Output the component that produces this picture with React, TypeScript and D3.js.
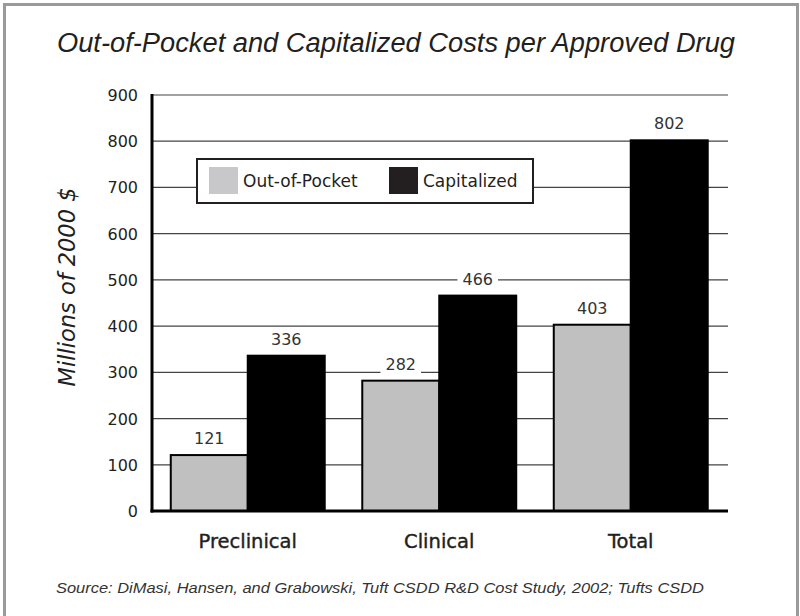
import React from "react";
import * as d3 from "d3";

const categories = ["Preclinical", "Clinical", "Total"];
const seriesNames = ["Out-of-Pocket", "Capitalized"];
const outOfPocket = [121, 282, 403];
const capitalized = [336, 466, 802];
const yTicks = [0, 100, 200, 300, 400, 500, 600, 700, 800, 900];
const title = "Out-of-Pocket and Capitalized Costs per Approved Drug";
const yTitle = "Millions of 2000 $";
const source = "Source: DiMasi, Hansen, and Grabowski, Tuft CSDD R&D Cost Study, 2002; Tufts CSDD";

const W = 800;
const H = 616;
const FONT = "'Liberation Sans', Arial, sans-serif";
const WIDE = "'DejaVu Sans', sans-serif";

export default function App() {
  const left = 152;
  const right = 726.5;
  const top = 95;
  const bottom = 511;

  const x0 = d3.scaleBand<string>().domain(categories).range([left, right]).paddingInner(0.196).paddingOuter(0.098);
  const x1 = d3.scaleBand<string>().domain(seriesNames).range([0, x0.bandwidth()]);
  const y = d3.scaleLinear().domain([0, 900]).range([bottom, top]);

  const fills = ["#c0c0c0", "#000000"];
  const series = [outOfPocket, capitalized];

  const bars: any[] = [];
  const labels: any[] = [];
  categories.forEach((c, i) => {
    seriesNames.forEach((s, j) => {
      const v = series[j][i];
      const bx = (x0(c) as number) + (x1(s) as number);
      const bw = x1.bandwidth();
      bars.push(
        <rect
          key={`b-${c}-${s}`}
          x={bx}
          y={y(v)}
          width={bw}
          height={y(0) - y(v)}
          fill={fills[j]}
          stroke="#000"
          strokeWidth={2}
        />
      );
      const cx = bx + bw / 2;
      const ty = y(v) - 11;
      const tw = String(v).length * 0.636 * 16;
      labels.push(
        <g key={`l-${c}-${s}`}>
          <rect x={cx - tw / 2 - 5} y={ty - 14} width={tw + 10} height={18} fill="#fff" />
          <text x={cx} y={ty} textAnchor="middle" fontSize={16} fill="#333" fontFamily={WIDE}>
            {v}
          </text>
        </g>
      );
    });
  });

  return (
    <svg width={W} height={H} style={{ position: "absolute", left: 0, top: 0, background: "#fff" }}>
      <rect x={0} y={0} width={W} height={H} fill="#fff" />
      <rect x={4.5} y={4.5} width={793} height={H + 10} fill="none" stroke="#9a9a9a" strokeWidth={3} />

      <text
        x={396}
        y={52}
        textAnchor="middle"
        fontSize={27}
        fontStyle="italic"
        fill="#231f20"
        fontFamily={FONT}
        textLength={678}
        lengthAdjust="spacingAndGlyphs"
      >
        {title}
      </text>

      {/* gridlines */}
      {yTicks.filter((t) => t > 0).map((t) => (
        <line key={`g-${t}`} x1={left} x2={728} y1={y(t)} y2={y(t)} stroke="#444" strokeWidth={1.2} />
      ))}

      {/* y tick labels */}
      {yTicks.map((t) => (
        <text
          key={`t-${t}`}
          x={138}
          y={y(t) + 6}
          textAnchor="end"
          fontSize={16}
          fill="#231f20"
          fontFamily={WIDE}
        >
          {t}
        </text>
      ))}

      {/* legend */}
      <g>
        <rect x={197} y={159} width={336} height={44} fill="#fff" stroke="#231f20" strokeWidth={2} />
        <rect x={209} y={167} width={29} height={27} fill="#c8c8ca" />
        <text x={243} y={187} fontSize={17} fill="#231f20" fontFamily={WIDE}>
          {seriesNames[0]}
        </text>
        <rect x={389} y={167} width={29} height={27} fill="#231f20" />
        <text x={423} y={187} fontSize={17} fill="#231f20" fontFamily={WIDE}>
          {seriesNames[1]}
        </text>
      </g>

      {bars}
      {labels}

      {/* axes */}
      <line x1={left} x2={left} y1={top - 1} y2={bottom + 1.5} stroke="#000" strokeWidth={3} />
      <line x1={left - 1.5} x2={728} y1={bottom} y2={bottom} stroke="#000" strokeWidth={3} />

      {/* category labels */}
      {categories.map((c) => (
        <text
          key={`c-${c}`}
          x={(x0(c) as number) + x0.bandwidth() / 2}
          y={548}
          textAnchor="middle"
          fontSize={19.5}
          fill="#231f20"
          stroke="#231f20"
          strokeWidth={0.4}
          fontFamily={WIDE}
        >
          {c}
        </text>
      ))}

      {/* y axis title */}
      <text
        transform={`translate(75, 287) rotate(-90)`}
        textAnchor="middle"
        fontSize={22.5}
        fontStyle="italic"
        fill="#231f20"
        fontFamily={WIDE}
      >
        {yTitle}
      </text>

      <text x={56} y={593} fontSize={14.5} fontStyle="italic" fill="#333" fontFamily={FONT} textLength={648} lengthAdjust="spacingAndGlyphs">
        {source}
      </text>
    </svg>
  );
}
